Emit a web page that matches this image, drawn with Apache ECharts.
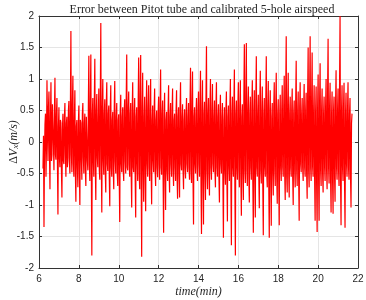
<!DOCTYPE html>
<html>
<head>
<meta charset="utf-8">
<script src="https://cdn.jsdelivr.net/npm/echarts@6/dist/echarts.min.js"></script>
<style>html,body{margin:0;padding:0;background:#fff}#c{width:366px;height:300px}</style>
</head>
<body>
<div id="c"></div>
<script>
// Signal sampling (minutes)
const tStart = 6.20;
const tStep = 0.05;
// Error values ΔVx (m/s)
const errorValues = [
  -0.42, -1.35, 0.28, -0.55, 0.98, -0.30,
  0.80, -0.75, 0.95, -0.20, 0.62, -0.45, 1.02, -0.28, 0.70, -1.15,
  0.55, -0.40, 0.30, -0.88, 0.45, -0.35, 0.62, -0.55, 0.40, -0.25,
  0.65, -0.50, 1.76, -0.48, 1.05, -0.55, 0.82, -0.95, 0.35, -0.72,
  0.58, -1.00, 0.30, -0.60, 0.62, -0.50, 0.45, -0.70, 0.38, -0.45,
  1.37, -0.62, 1.39, -1.80, 0.70, -0.55, 1.32, -0.92, 0.76, -0.40,
  0.85, -0.60, 1.89, -1.12, 1.00, -0.52, 0.68, -0.80, 0.95, -0.46,
  0.58, -1.02, 0.90, -0.55, 0.48, -0.75, 0.97, -0.50, 0.62, -0.70,
  0.44, -1.27, 0.75, -0.48, 0.55, -0.62, 0.68, -0.50, 1.39, -0.45,
  0.80, -0.55, 0.62, -1.04, 0.95, -0.48, 0.70, -1.20, 0.55, -0.62,
  1.34, -0.75, 1.38, -1.82, 1.10, -0.95, 0.72, -1.10, 0.98, -0.55,
  0.90, -0.62, 1.00, -0.99, 0.58, -0.48, 0.85, -0.70, 0.50, -0.56,
  0.72, -0.60, 1.15, -0.52, 0.66, -1.44, 0.78, -1.08, 0.48, -0.62,
  0.90, -0.80, 0.62, -0.55, 0.85, -0.70, 0.45, -0.62, 0.82, -0.90,
  0.55, -0.88, 0.95, -0.45, 0.60, -0.75, 0.52, -0.58, 0.70, -0.48,
  0.62, -0.60, 1.18, -0.65, 1.12, -1.31, 0.55, -0.50, 0.70, -0.62,
  0.80, -0.55, 1.13, -1.46, 0.98, -1.31, 0.64, -0.92, 1.52, -0.75,
  0.70, -0.85, 1.00, -0.60, 0.92, -0.48, 0.66, -0.72, 0.95, -0.55,
  0.60, -0.96, 0.75, -0.50, 0.62, -1.52, 0.55, -0.68, 0.80, -1.26,
  0.58, -0.62, 1.00, -1.64, 0.72, -0.55, 1.15, -1.80, 0.66, -0.60,
  0.95, -0.72, 0.98, -1.17, 0.60, -0.92, 1.55, -0.65, 1.57, -0.70,
  0.88, -0.96, 0.72, -0.60, 0.98, -1.44, 0.82, -1.20, 1.36, -0.55,
  0.75, -1.05, 1.13, -0.66, 0.88, -1.48, 0.70, -0.55, 1.36, -0.72,
  0.97, -1.52, 0.82, -1.33, 0.62, -0.85, 0.95, -0.70, 1.10, -0.98,
  0.68, -1.32, 0.75, -0.62, 0.90, -0.55, 1.05, -0.92, 1.68, -0.80,
  1.10, -0.88, 0.72, -0.55, 0.85, -1.00, 0.66, -0.72, 1.29, -0.70,
  0.80, -1.25, 0.95, -0.48, 0.70, -0.62, 0.92, -0.55, 0.78, -0.90,
  1.50, -0.72, 1.68, -0.62, 1.42, -0.55, 0.90, -1.25, 0.88, -1.43,
  1.07, -1.25, 1.25, -0.70, 0.85, -0.80, 0.72, -0.62, 1.00, -0.75,
  1.64, -0.66, 0.94, -1.12, 0.80, -1.14, 0.72, -0.95, 1.14, -0.60,
  0.85, -0.70, 2.00, -1.32, 0.90, -0.62, 0.94, -1.36, 0.78, -0.55,
  0.95, -0.60, 0.70, -1.04, 0.45
];
const midValues = [
  0.10, -0.20, 0.45, -0.10, 0.30, 0.55,
  -0.15, 0.40, -0.30, 0.60, -0.05, 0.50, -0.20, 0.45, -0.35, 0.25,
  -0.25, 0.35, -0.45, 0.20, -0.30, 0.40, -0.20, 0.30, -0.40, 0.50,
  -0.30, 0.55, -0.20, 0.60, -0.35, 0.40, -0.50, 0.25, -0.40, 0.30,
  -0.45, 0.35, -0.30, 0.45, -0.25, 0.30, -0.45, 0.40, -0.30, 0.55,
  -0.35, 0.60, -0.50, 0.45, -0.30, 0.65, -0.40, 0.50, -0.25, 0.40,
  -0.45, 0.70, -0.35, 0.55, -0.30, 0.45, -0.50, 0.60, -0.35, 0.45,
  -0.55, 0.50, -0.40, 0.35, -0.45, 0.55, -0.30, 0.40, -0.50, 0.35,
  -0.60, 0.45, -0.35, 0.40, -0.45, 0.50, -0.30, 0.70, -0.40, 0.55,
  -0.35, 0.45, -0.55, 0.50, -0.40, 0.45, -0.60, 0.40, -0.35, 0.65,
  -0.50, 0.75, -0.60, 0.55, -0.45, 0.40, -0.55, 0.50, -0.35, 0.55,
  -0.40, 0.50, -0.45, 0.35, -0.30, 0.50, -0.45, 0.35, -0.40, 0.45,
  -0.35, 0.60, -0.40, 0.45, -0.60, 0.40, -0.50, 0.35, -0.45, 0.50,
  -0.45, 0.40, -0.35, 0.50, -0.45, 0.35, -0.40, 0.50, -0.55, 0.40,
  -0.50, 0.55, -0.35, 0.40, -0.45, 0.35, -0.40, 0.45, -0.35, 0.40,
  -0.40, 0.60, -0.45, 0.65, -0.60, 0.40, -0.35, 0.45, -0.40, 0.50,
  -0.35, 0.60, -0.65, 0.50, -0.60, 0.45, -0.50, 0.70, -0.45, 0.45,
  -0.50, 0.55, -0.40, 0.50, -0.35, 0.40, -0.45, 0.55, -0.40, 0.40,
  -0.55, 0.45, -0.35, 0.40, -0.65, 0.35, -0.45, 0.50, -0.60, 0.40,
  -0.40, 0.55, -0.70, 0.45, -0.40, 0.60, -0.75, 0.45, -0.40, 0.55,
  -0.45, 0.55, -0.55, 0.40, -0.50, 0.70, -0.45, 0.75, -0.45, 0.50,
  -0.55, 0.45, -0.40, 0.55, -0.65, 0.50, -0.60, 0.65, -0.40, 0.45,
  -0.55, 0.60, -0.45, 0.50, -0.70, 0.45, -0.40, 0.65, -0.50, 0.55,
  -0.70, 0.50, -0.60, 0.40, -0.50, 0.55, -0.45, 0.60, -0.55, 0.45,
  -0.60, 0.45, -0.40, 0.50, -0.40, 0.55, -0.50, 0.80, -0.55, 0.60,
  -0.50, 0.45, -0.40, 0.50, -0.55, 0.45, -0.45, 0.65, -0.45, 0.50,
  -0.60, 0.55, -0.35, 0.45, -0.40, 0.55, -0.40, 0.50, -0.50, 0.75,
  -0.45, 0.80, -0.40, 0.70, -0.40, 0.50, -0.60, 0.50, -0.65, 0.55,
  -0.60, 0.65, -0.45, 0.50, -0.50, 0.45, -0.40, 0.55, -0.45, 0.80,
  -0.40, 0.55, -0.60, 0.45, -0.60, 0.50, -0.55, 0.60, -0.40, 0.50,
  -0.45, 0.90, -0.65, 0.50, -0.40, 0.55, -0.65, 0.45, -0.35, 0.50,
  -0.40, 0.45, -0.55, 0.30
];
const xTicks = [6, 8, 10, 12, 14, 16, 18, 20, 22];
const yTicks = [-2, -1.5, -1, -0.5, 0, 0.5, 1, 1.5, 2];

const seriesData = [];
errorValues.forEach((v, i) => {
  const t = tStart + i * tStep;
  seriesData.push([+t.toFixed(3), v]);
  if (i < midValues.length && i < errorValues.length - 1) {
    seriesData.push([+(t + tStep / 2).toFixed(3), midValues[i]]);
  }
});

const axisColor = '#333333';
const sans = "'Liberation Sans', Arial, Helvetica, sans-serif";
const serif = "'Liberation Serif', 'Times New Roman', serif";
const labelStyle = { color: '#262626', fontSize: 10, fontFamily: sans };

const chart = echarts.init(document.getElementById('c'), null, { renderer: 'canvas' });
chart.setOption({
  animation: false,
  backgroundColor: '#ffffff',
  title: {
    text: 'Error between Pitot tube and calibrated 5-hole airspeed',
    left: 197, top: -1, textAlign: 'center',
    textStyle: { fontFamily: serif, fontWeight: 'normal', fontSize: 12, color: '#262626' }
  },
  grid: { left: 39, right: 8, top: 16, bottom: 32, containLabel: false, outerBoundsMode: 'none' },
  xAxis: [{
    type: 'value', min: xTicks[0], max: xTicks[xTicks.length - 1], interval: 2,
    position: 'bottom',
    axisLine: { show: true, onZero: false, lineStyle: { color: axisColor, width: 1 } },
    axisTick: { show: true, inside: true, length: 3, lineStyle: { color: axisColor } },
    axisLabel: Object.assign({ margin: 6 }, labelStyle),
    splitLine: { show: true, lineStyle: { color: '#e5e5e5', width: 1 } },
    name: 'time(min)', nameLocation: 'middle', nameGap: 18, nameMoveOverlap: false,
    nameTextStyle: { fontFamily: serif, fontStyle: 'italic', fontSize: 12, color: '#262626' }
  }, {
    type: 'value', min: xTicks[0], max: xTicks[xTicks.length - 1], interval: 2,
    position: 'top',
    axisLine: { show: true, onZero: false, lineStyle: { color: axisColor, width: 1 } },
    axisTick: { show: true, inside: true, length: 3, lineStyle: { color: axisColor } },
    axisLabel: { show: false }, splitLine: { show: false }
  }],
  yAxis: [{
    type: 'value', min: yTicks[0], max: yTicks[yTicks.length - 1], interval: 0.5,
    position: 'left',
    axisLine: { show: true, onZero: false, lineStyle: { color: axisColor, width: 1 } },
    axisTick: { show: true, inside: true, length: 3, lineStyle: { color: axisColor } },
    axisLabel: Object.assign({ margin: 5 }, labelStyle),
    splitLine: { show: true, lineStyle: { color: '#e5e5e5', width: 1 } },
    name: '{d|Δ}{v|V}{s|x}{v|(m/s)}', nameLocation: 'middle', nameGap: 19, nameRotate: 90,
    nameMoveOverlap: false,
    nameTextStyle: {
      color: '#262626',
      rich: {
        d: { fontFamily: serif, fontSize: 12, color: '#262626' },
        v: { fontFamily: serif, fontSize: 12, fontStyle: 'italic', color: '#262626' },
        s: { fontFamily: serif, fontSize: 9, fontStyle: 'italic', color: '#262626', verticalAlign: 'bottom', padding: [4, 0, 0, 0] }
      }
    }
  }, {
    type: 'value', min: yTicks[0], max: yTicks[yTicks.length - 1], interval: 0.5,
    position: 'right',
    axisLine: { show: true, onZero: false, lineStyle: { color: axisColor, width: 1 } },
    axisTick: { show: true, inside: true, length: 3, lineStyle: { color: axisColor } },
    axisLabel: { show: false }, splitLine: { show: false }
  }],
  series: [{
    type: 'line',
    data: seriesData,
    xAxisIndex: 0, yAxisIndex: 0,
    showSymbol: false, symbol: 'none',
    sampling: false,
    lineStyle: { color: '#ff0000', width: 1.2 },
    itemStyle: { color: '#ff0000' }
  }]
});
</script>
</body>
</html>
